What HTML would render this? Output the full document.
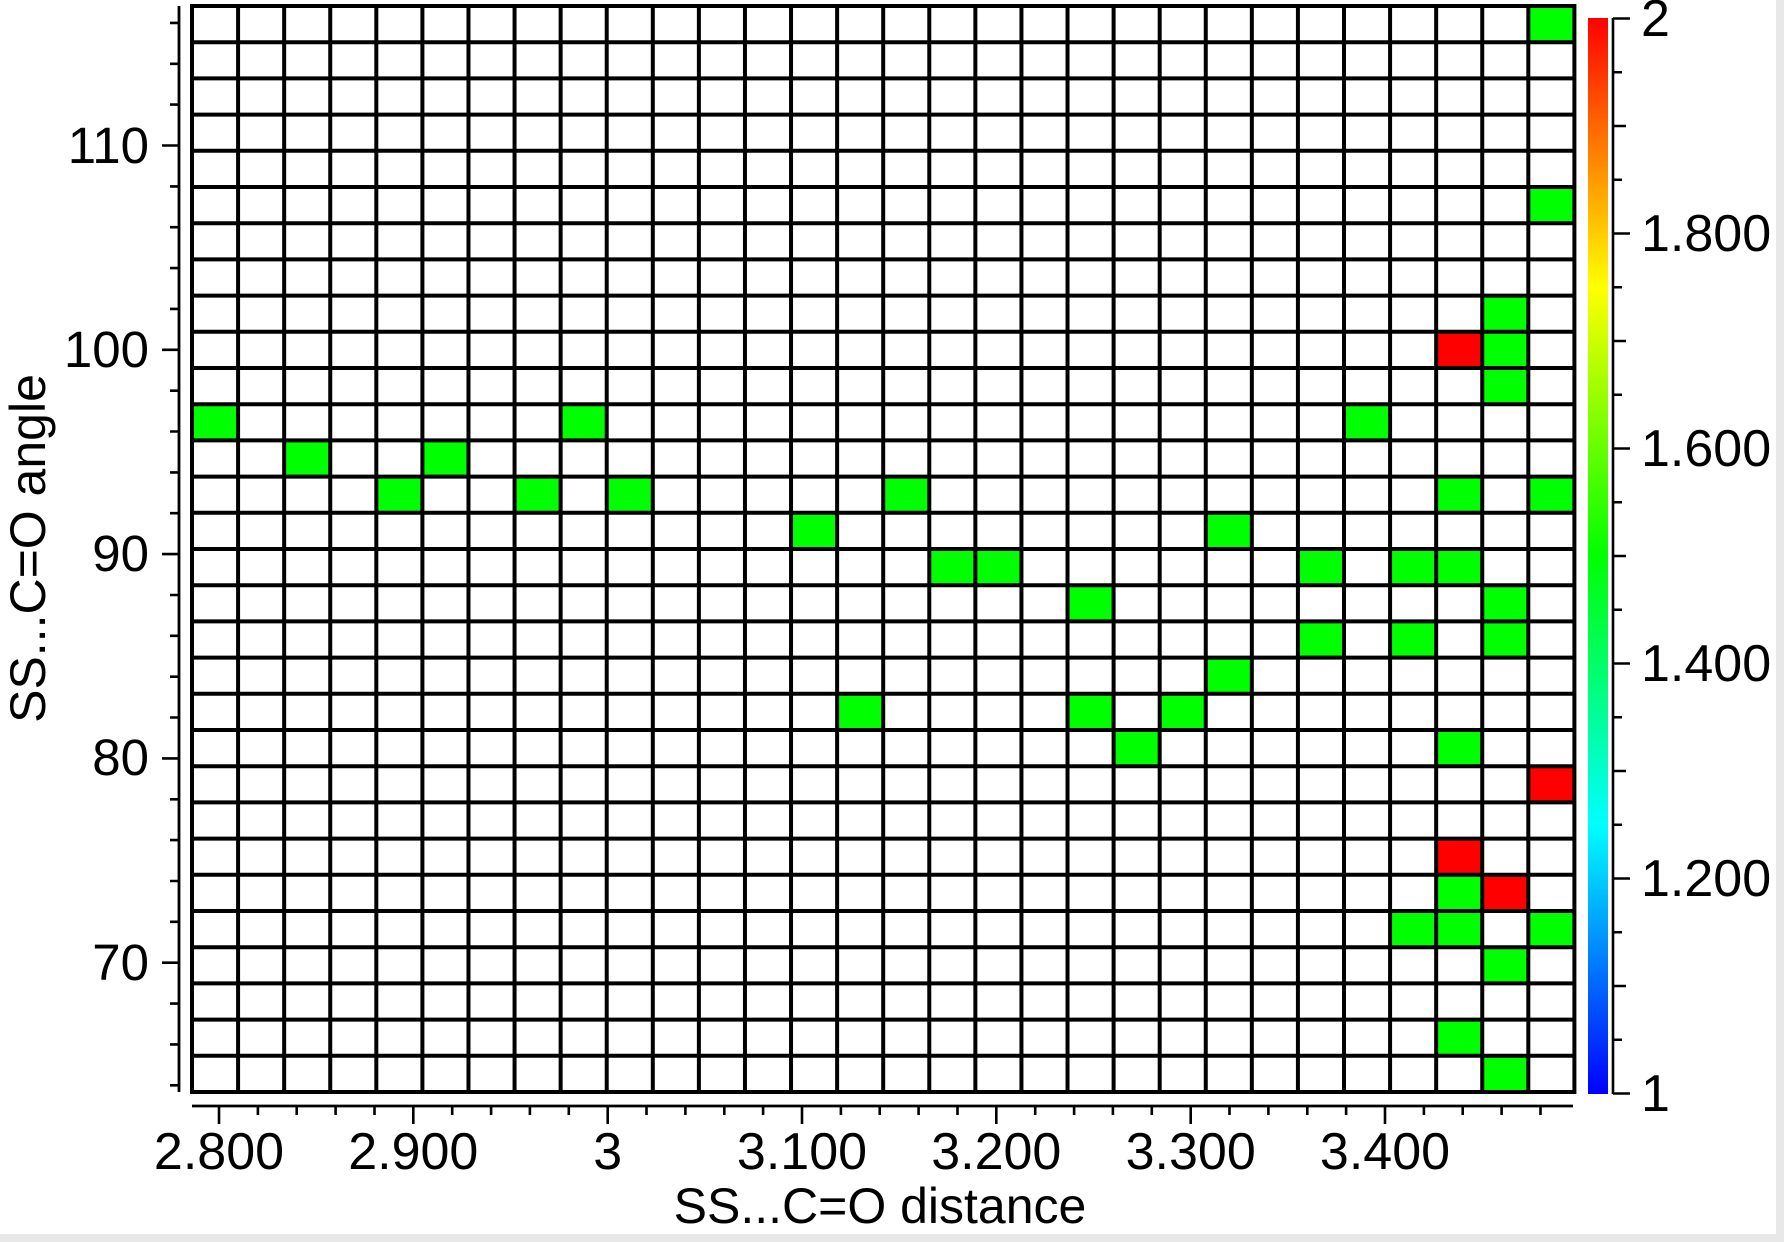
<!DOCTYPE html>
<html>
<head>
<meta charset="utf-8">
<style>
html,body{margin:0;padding:0;background:#fff;}
body{width:1784px;height:1242px;overflow:hidden;}
svg{display:block;}
text{font-family:"Liberation Sans",sans-serif;fill:#000;}
</style>
</head>
<body>
<svg width="1784" height="1242" viewBox="0 0 1784 1242" xmlns="http://www.w3.org/2000/svg">
<defs>
<linearGradient id="jet" x1="0" y1="0" x2="0" y2="1">
<stop offset="0" stop-color="#ff0000"/>
<stop offset="0.25" stop-color="#ffff00"/>
<stop offset="0.5" stop-color="#00ff00"/>
<stop offset="0.75" stop-color="#00ffff"/>
<stop offset="1" stop-color="#0000ff"/>
</linearGradient>
</defs>
<rect x="0" y="0" width="1784" height="1242" fill="#ffffff"/>
<rect x="1776" y="0" width="8" height="1242" fill="#e8e8e8"/>
<rect x="0" y="1234" width="1784" height="8" fill="#e8e8e8"/>

<g fill="#00ff00">
<rect x="1528.32" y="6" width="46.08" height="36.2"/>
<rect x="1528.32" y="187" width="46.08" height="36.2"/>
<rect x="1482.24" y="295.6" width="46.08" height="36.2"/>
<rect x="1482.24" y="331.8" width="46.08" height="36.2"/>
<rect x="1482.24" y="368" width="46.08" height="36.2"/>
<rect x="192" y="404.2" width="46.08" height="36.2"/>
<rect x="560.64" y="404.2" width="46.08" height="36.2"/>
<rect x="1344" y="404.2" width="46.08" height="36.2"/>
<rect x="284.16" y="440.4" width="46.08" height="36.2"/>
<rect x="422.4" y="440.4" width="46.08" height="36.2"/>
<rect x="376.32" y="476.6" width="46.08" height="36.2"/>
<rect x="514.56" y="476.6" width="46.08" height="36.2"/>
<rect x="606.72" y="476.6" width="46.08" height="36.2"/>
<rect x="883.2" y="476.6" width="46.08" height="36.2"/>
<rect x="1436.16" y="476.6" width="46.08" height="36.2"/>
<rect x="1528.32" y="476.6" width="46.08" height="36.2"/>
<rect x="791.04" y="512.8" width="46.08" height="36.2"/>
<rect x="1205.76" y="512.8" width="46.08" height="36.2"/>
<rect x="929.28" y="549" width="46.08" height="36.2"/>
<rect x="975.36" y="549" width="46.08" height="36.2"/>
<rect x="1297.92" y="549" width="46.08" height="36.2"/>
<rect x="1390.08" y="549" width="46.08" height="36.2"/>
<rect x="1436.16" y="549" width="46.08" height="36.2"/>
<rect x="1067.52" y="585.2" width="46.08" height="36.2"/>
<rect x="1482.24" y="585.2" width="46.08" height="36.2"/>
<rect x="1297.92" y="621.4" width="46.08" height="36.2"/>
<rect x="1390.08" y="621.4" width="46.08" height="36.2"/>
<rect x="1482.24" y="621.4" width="46.08" height="36.2"/>
<rect x="1205.76" y="657.6" width="46.08" height="36.2"/>
<rect x="837.12" y="693.8" width="46.08" height="36.2"/>
<rect x="1067.52" y="693.8" width="46.08" height="36.2"/>
<rect x="1159.68" y="693.8" width="46.08" height="36.2"/>
<rect x="1113.6" y="730" width="46.08" height="36.2"/>
<rect x="1436.16" y="730" width="46.08" height="36.2"/>
<rect x="1436.16" y="874.8" width="46.08" height="36.2"/>
<rect x="1390.08" y="911" width="46.08" height="36.2"/>
<rect x="1436.16" y="911" width="46.08" height="36.2"/>
<rect x="1528.32" y="911" width="46.08" height="36.2"/>
<rect x="1482.24" y="947.2" width="46.08" height="36.2"/>
<rect x="1436.16" y="1019.6" width="46.08" height="36.2"/>
<rect x="1482.24" y="1055.8" width="46.08" height="36.2"/>
</g>
<g fill="#ff0000">
<rect x="1436.16" y="331.8" width="46.08" height="36.2"/>
<rect x="1528.32" y="766.2" width="46.08" height="36.2"/>
<rect x="1436.16" y="838.6" width="46.08" height="36.2"/>
<rect x="1482.24" y="874.8" width="46.08" height="36.2"/>
</g>

<path fill="none" stroke="#000" stroke-width="4" d="M192 4V1094 M238.08 6V1092 M284.16 6V1092 M330.24 6V1092 M376.32 6V1092 M422.4 6V1092 M468.48 6V1092 M514.56 6V1092 M560.64 6V1092 M606.72 6V1092 M652.8 6V1092 M698.88 6V1092 M744.96 6V1092 M791.04 6V1092 M837.12 6V1092 M883.2 6V1092 M929.28 6V1092 M975.36 6V1092 M1021.44 6V1092 M1067.52 6V1092 M1113.6 6V1092 M1159.68 6V1092 M1205.76 6V1092 M1251.84 6V1092 M1297.92 6V1092 M1344 6V1092 M1390.08 6V1092 M1436.16 6V1092 M1482.24 6V1092 M1528.32 6V1092 M1574.4 4V1094 M190 6H1576.4 M190 42.2H1576.4 M190 78.4H1576.4 M190 114.6H1576.4 M190 150.8H1576.4 M190 187H1576.4 M190 223.2H1576.4 M190 259.4H1576.4 M190 295.6H1576.4 M190 331.8H1576.4 M190 368H1576.4 M190 404.2H1576.4 M190 440.4H1576.4 M190 476.6H1576.4 M190 512.8H1576.4 M190 549H1576.4 M190 585.2H1576.4 M190 621.4H1576.4 M190 657.6H1576.4 M190 693.8H1576.4 M190 730H1576.4 M190 766.2H1576.4 M190 802.4H1576.4 M190 838.6H1576.4 M190 874.8H1576.4 M190 911H1576.4 M190 947.2H1576.4 M190 983.4H1576.4 M190 1019.6H1576.4 M190 1055.8H1576.4 M190 1092H1576.4"/>

<path fill="none" stroke="#000" stroke-width="2.8" d="M179 6V1092"/>
<path fill="none" stroke="#000" stroke-width="2.6" d="M170 22.9H179 M170 63.8H179 M170 104.6H179 M162 145.5H179 M170 186.4H179 M170 227.2H179 M170 268.1H179 M170 308.9H179 M162 349.8H179 M170 390.7H179 M170 431.5H179 M170 472.4H179 M170 513.2H179 M162 554.1H179 M170 595H179 M170 635.8H179 M170 676.7H179 M170 717.5H179 M162 758.4H179 M170 799.3H179 M170 840.1H179 M170 881H179 M170 921.8H179 M162 962.7H179 M170 1003.6H179 M170 1044.4H179 M170 1085.3H179"/>
<g font-size="51" text-anchor="end">
<text x="149" y="163">110</text>
<text x="149" y="367">100</text>
<text x="149" y="571">90</text>
<text x="149" y="775">80</text>
<text x="149" y="980">70</text>
</g>
<text font-size="50" text-anchor="middle" transform="translate(45,548.5) rotate(-90)">SS...C=O angle</text>

<path fill="none" stroke="#000" stroke-width="2.8" d="M192 1106H1573"/>
<path fill="none" stroke="#000" stroke-width="2.6" d="M219 1106V1124 M257.9 1106V1115 M296.7 1106V1115 M335.6 1106V1115 M374.5 1106V1115 M413.3 1106V1124 M452.2 1106V1115 M491.1 1106V1115 M529.9 1106V1115 M568.8 1106V1115 M607.7 1106V1124 M646.5 1106V1115 M685.4 1106V1115 M724.3 1106V1115 M763.1 1106V1115 M802 1106V1124 M840.9 1106V1115 M879.7 1106V1115 M918.6 1106V1115 M957.5 1106V1115 M996.3 1106V1124 M1035.2 1106V1115 M1074.1 1106V1115 M1112.9 1106V1115 M1151.8 1106V1115 M1190.7 1106V1124 M1229.5 1106V1115 M1268.4 1106V1115 M1307.3 1106V1115 M1346.1 1106V1115 M1385 1106V1124 M1423.9 1106V1115 M1462.7 1106V1115 M1501.6 1106V1115 M1540.5 1106V1115"/>
<g font-size="52" text-anchor="middle">
<text x="219" y="1169">2.800</text>
<text x="413.3" y="1169">2.900</text>
<text x="607.7" y="1169">3</text>
<text x="802" y="1169">3.100</text>
<text x="996.3" y="1169">3.200</text>
<text x="1190.7" y="1169">3.300</text>
<text x="1385" y="1169">3.400</text>
</g>
<text x="880" y="1223" font-size="50" text-anchor="middle">SS...C=O distance</text>

<rect x="1588" y="18" width="20" height="1076" fill="url(#jet)"/>
<path fill="none" stroke="#000" stroke-width="2.6" d="M1613 18V1094"/>
<path fill="none" stroke="#000" stroke-width="2.6" d="M1613 1093.5H1630 M1613 1039.75H1622 M1613 986H1626 M1613 932.25H1622 M1613 878.5H1630 M1613 824.75H1622 M1613 771H1626 M1613 717.25H1622 M1613 663.5H1630 M1613 609.75H1622 M1613 556H1626 M1613 502.25H1622 M1613 448.5H1630 M1613 394.75H1622 M1613 341H1626 M1613 287.25H1622 M1613 233.5H1630 M1613 179.75H1622 M1613 126H1626 M1613 72.25H1622 M1613 18.5H1630"/>
<g font-size="52">
<text x="1641" y="36">2</text>
<text x="1641" y="251">1.800</text>
<text x="1641" y="466">1.600</text>
<text x="1641" y="681">1.400</text>
<text x="1641" y="896">1.200</text>
<text x="1641" y="1111">1</text>
</g>
</svg>
</body>
</html>
